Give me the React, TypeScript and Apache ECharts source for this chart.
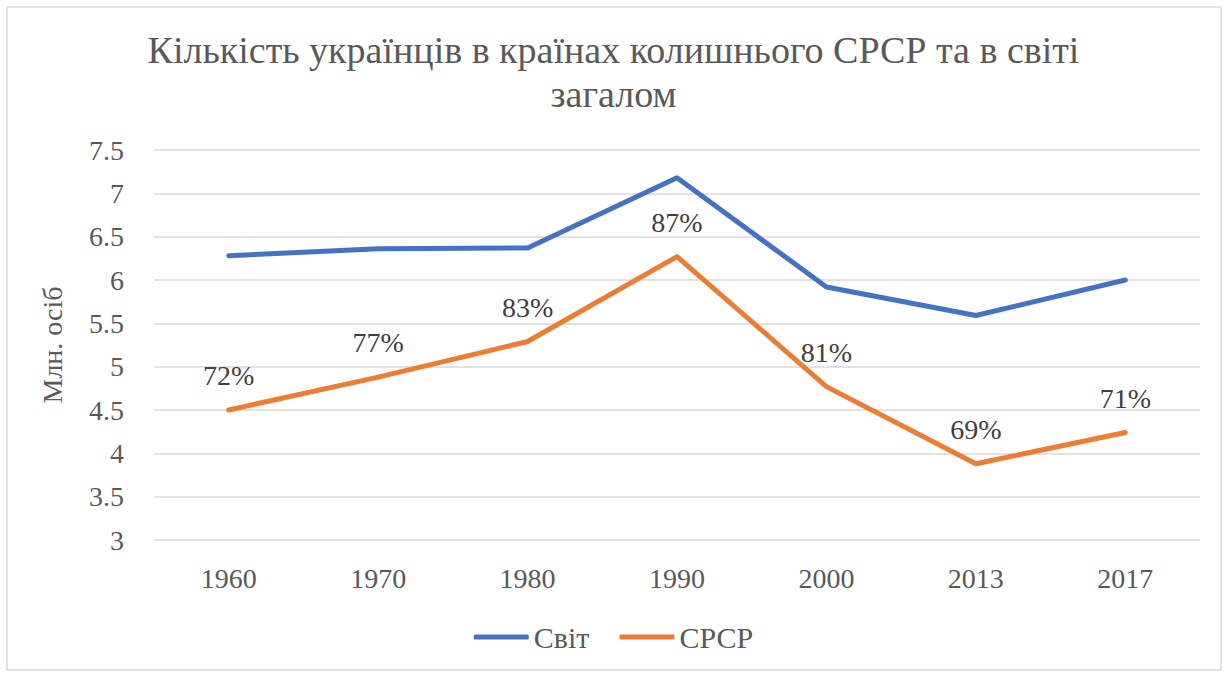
import React, { useEffect, useRef } from "react";
import * as echarts from "echarts";

const years = ["1960", "1970", "1980", "1990", "2000", "2013", "2017"];
const world = [6.28, 6.36, 6.37, 7.18, 5.92, 5.59, 6.0];
const ussr = [4.5, 4.88, 5.29, 6.27, 4.77, 3.88, 4.24];
const ussrShare = ["72%", "77%", "83%", "87%", "81%", "69%", "71%"];

const FONT = "Liberation Serif";

export default function App() {
  const ref = useRef<HTMLDivElement>(null);
  useEffect(() => {
    if (!ref.current) return;
    const chart = echarts.init(ref.current, undefined, { renderer: "svg" });
    chart.setOption({
      animation: false,
      backgroundColor: "#ffffff",
      graphic: [
        {
          type: "rect",
          shape: { x: 7, y: 7, width: 1214, height: 663 },
          style: { fill: "none", stroke: "#d9d9d9", lineWidth: 1.5 },
          silent: true,
        },
      ],
      title: {
        text: "Кількість українців в країнах колишнього СРСР та в світі\nзагалом",
        left: "center",
        top: 23,
        textStyle: {
          fontFamily: FONT,
          fontSize: 38,
          fontWeight: "normal",
          color: "#595959",
          lineHeight: 44,
        },
      },
      legend: {
        bottom: 18,
        left: "center",
        itemWidth: 55,
        itemHeight: 5,
        itemGap: 30,
        icon: "roundRect",
        textStyle: { fontFamily: FONT, fontSize: 30, color: "#595959" },
        data: ["Світ", "СРСР"],
      },
      grid: { left: 154, right: 27, top: 150, bottom: 135 },
      xAxis: {
        type: "category",
        data: years,
        boundaryGap: true,
        axisLine: { show: false },
        axisTick: { show: false },
        axisLabel: {
          fontFamily: FONT,
          fontSize: 28,
          color: "#595959",
          margin: 24,
        },
      },
      yAxis: {
        type: "value",
        min: 3,
        max: 7.5,
        interval: 0.5,
        name: "Млн. осіб",
        nameLocation: "middle",
        nameGap: 88,
        nameTextStyle: { fontFamily: FONT, fontSize: 28, color: "#595959" },
        axisLine: { show: false },
        axisTick: { show: false },
        axisLabel: {
          fontFamily: FONT,
          fontSize: 28,
          color: "#595959",
          margin: 30,
          formatter: (v: number) => String(v),
        },
        splitLine: { lineStyle: { color: "#d9d9d9", width: 1.5 } },
      },
      series: [
        {
          name: "Світ",
          type: "line",
          data: world,
          symbol: "none",
          lineStyle: { color: "#4472C4", width: 5, cap: "round", join: "round" },
          itemStyle: { color: "#4472C4" },
        },
        {
          name: "СРСР",
          type: "line",
          data: ussr,
          symbol: "circle",
          symbolSize: 1,
          showSymbol: true,
          lineStyle: { color: "#ED7D31", width: 5, cap: "round", join: "round" },
          itemStyle: { color: "#ED7D31" },
          label: {
            show: true,
            position: "top",
            distance: 20,
            fontFamily: FONT,
            fontSize: 28,
            color: "#404040",
            formatter: (p: any) => ussrShare[p.dataIndex],
          },
        },
      ],
    });
    return () => chart.dispose();
  }, []);
  return (
    <div
      ref={ref}
      style={{ position: "fixed", left: 0, top: 0, width: 1227, height: 675 }}
    />
  );
}
